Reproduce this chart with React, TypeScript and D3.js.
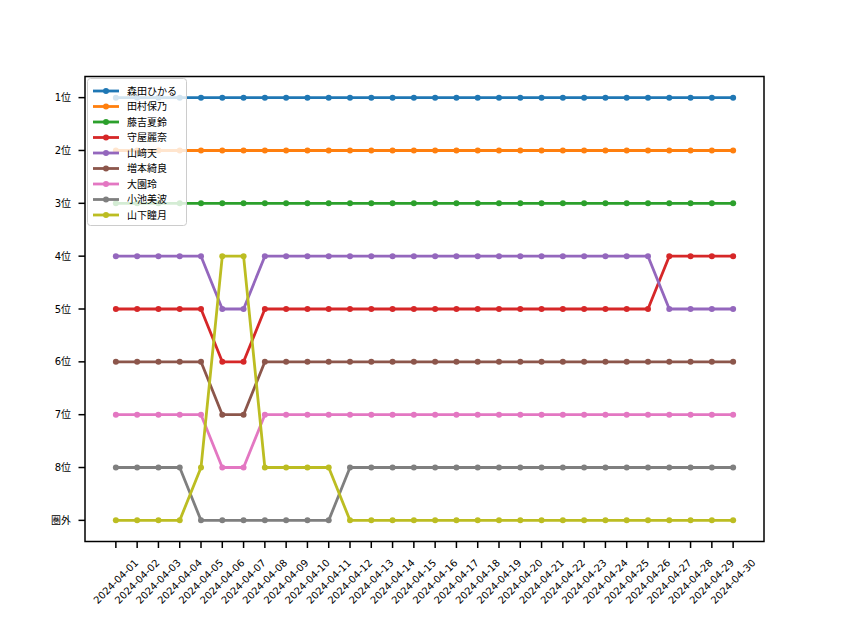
import React from "react";
import * as d3 from "d3";

const dates: string[] = Array.from({ length: 30 }, (_, i) => `2024-04-${String(i + 1).padStart(2, "0")}`);

const names = ["森田ひかる", "田村保乃", "藤吉夏鈴", "守屋麗奈", "山﨑天", "増本綺良", "大園玲", "小池美波", "山下瞳月"];
const colors = ["#1f77b4", "#ff7f0e", "#2ca02c", "#d62728", "#9467bd", "#8c564b", "#e377c2", "#7f7f7f", "#bcbd22"];

const morita = [1,1,1,1,1,1,1,1,1,1,1,1,1,1,1,1,1,1,1,1,1,1,1,1,1,1,1,1,1,1];
const tamura = [2,2,2,2,2,2,2,2,2,2,2,2,2,2,2,2,2,2,2,2,2,2,2,2,2,2,2,2,2,2];
const fujiyoshi = [3,3,3,3,3,3,3,3,3,3,3,3,3,3,3,3,3,3,3,3,3,3,3,3,3,3,3,3,3,3];
const moriya = [5,5,5,5,5,6,6,5,5,5,5,5,5,5,5,5,5,5,5,5,5,5,5,5,5,5,4,4,4,4];
const yamasaki = [4,4,4,4,4,5,5,4,4,4,4,4,4,4,4,4,4,4,4,4,4,4,4,4,4,4,5,5,5,5];
const masumoto = [6,6,6,6,6,7,7,6,6,6,6,6,6,6,6,6,6,6,6,6,6,6,6,6,6,6,6,6,6,6];
const ozono = [7,7,7,7,7,8,8,7,7,7,7,7,7,7,7,7,7,7,7,7,7,7,7,7,7,7,7,7,7,7];
const koike = [8,8,8,8,9,9,9,9,9,9,9,8,8,8,8,8,8,8,8,8,8,8,8,8,8,8,8,8,8,8];
const yamashita = [9,9,9,9,8,4,4,8,8,8,8,9,9,9,9,9,9,9,9,9,9,9,9,9,9,9,9,9,9,9];

const seriesValues = [morita, tamura, fujiyoshi, moriya, yamasaki, masumoto, ozono, koike, yamashita];

const yTicks = [1, 2, 3, 4, 5, 6, 7, 8, 9];
const yTickLabels = ["1位", "2位", "3位", "4位", "5位", "6位", "7位", "8位", "圏外"];

const W = 850, H = 637;
const L = 85, R = 764, T = 76.5, B = 541.5;
const FONT = "'DejaVu Sans', 'Noto Sans CJK JP', sans-serif";

export default function App() {
  const n = dates.length;
  const x = d3.scaleLinear().domain([-(n - 1) * 0.05, (n - 1) * 1.05]).range([L, R]);
  const y = d3.scaleLinear().domain([0.6, 9.4]).range([T, B]);
  const line = d3.line<number>().x((_, i) => x(i)).y((d) => y(d));

  return (
    <svg width={W} height={H} style={{ position: "absolute", left: 0, top: 0, background: "#fff" }} fontFamily={FONT}>
      <rect x={0} y={0} width={W} height={H} fill="#fff" />
      {seriesValues.map((vals, si) => (
        <g key={si}>
          <path d={line(vals) || ""} fill="none" stroke={colors[si]} strokeWidth={2.8} strokeLinejoin="round" strokeLinecap="butt" />
          {vals.map((v, i) => (
            <circle key={i} cx={x(i)} cy={y(v)} r={3} fill={colors[si]} />
          ))}
        </g>
      ))}
      {/* axes frame */}
      <rect x={L} y={T} width={R - L} height={B - T} fill="none" stroke="#000" strokeWidth={1.5} />
      {/* y ticks */}
      {yTicks.map((t, i) => (
        <g key={t}>
          <line x1={L - 6.5} x2={L} y1={y(t)} y2={y(t)} stroke="#000" strokeWidth={1.5} />
          <text x={L - 14} y={y(t)} textAnchor="end" dominantBaseline="central" fontSize={10} fill="#000">
            {yTickLabels[i]}
          </text>
        </g>
      ))}
      {/* x ticks */}
      {dates.map((d, i) => (
        <g key={d}>
          <line x1={x(i)} x2={x(i)} y1={B} y2={B + 6.5} stroke="#000" strokeWidth={1.5} />
          <text
            transform={`translate(${x(i)},${B + 40}) rotate(-45)`}
            textAnchor="middle"
            dominantBaseline="central"
            fontSize={10}
            fill="#000"
          >
            {d}
          </text>
        </g>
      ))}
      {/* legend */}
      <g>
        <rect x={87.5} y={78.5} width={99} height={147} rx={3} ry={3} fill="#fff" fillOpacity={0.8} stroke="#ccc" strokeWidth={1} />
        {names.map((nm, i) => {
          const ly = 91 + i * 15.5;
          return (
            <g key={nm}>
              <line x1={93} x2={119} y1={ly} y2={ly} stroke={colors[i]} strokeWidth={2.8} />
              <circle cx={106} cy={ly} r={3} fill={colors[i]} />
              <text x={127} y={ly} dominantBaseline="central" fontSize={10} fill="#000">
                {nm}
              </text>
            </g>
          );
        })}
      </g>
    </svg>
  );
}
